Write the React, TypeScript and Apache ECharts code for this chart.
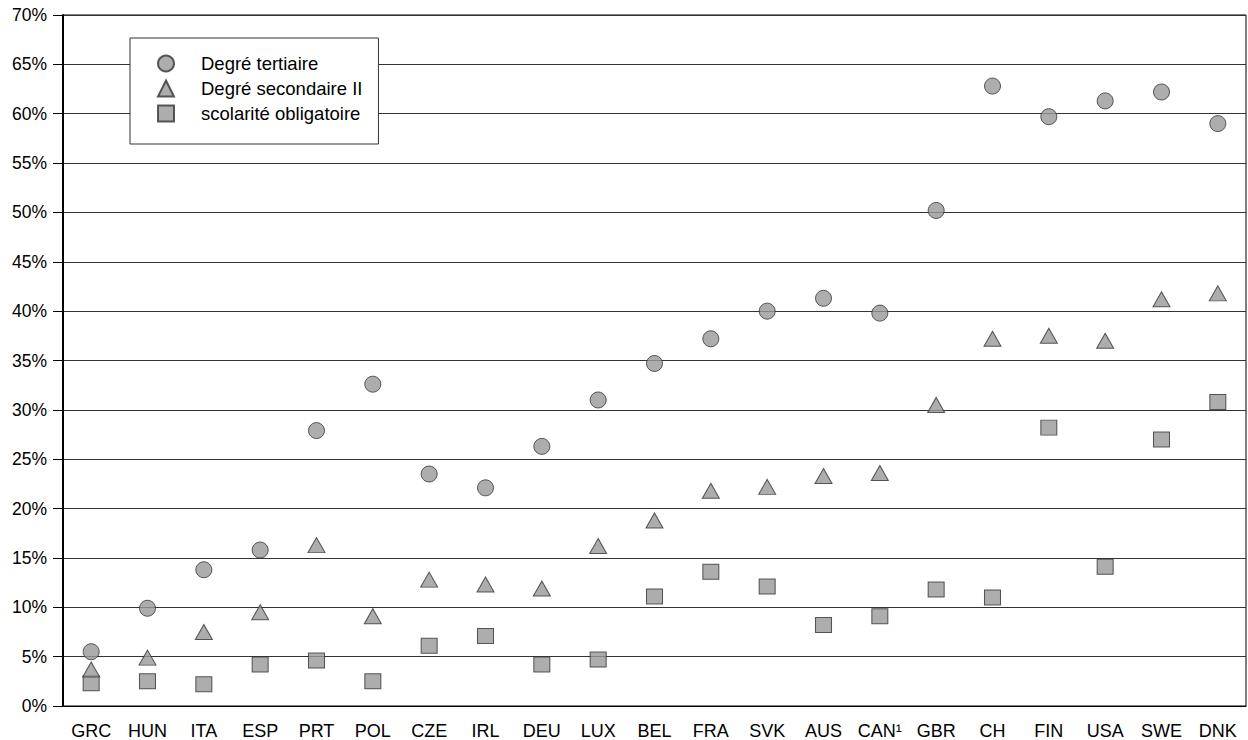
import React, { useEffect, useRef } from "react";
import * as echarts from "echarts";

const categories = ["GRC", "HUN", "ITA", "ESP", "PRT", "POL", "CZE", "IRL", "DEU", "LUX", "BEL", "FRA", "SVK", "AUS", "CAN¹", "GBR", "CH", "FIN", "USA", "SWE", "DNK"];
const tertiaire = [5.5, 9.9, 13.8, 15.8, 27.9, 32.6, 23.5, 22.1, 26.3, 31.0, 34.7, 37.2, 40.0, 41.3, 39.8, 50.2, 62.8, 59.7, 61.3, 62.2, 59.0];
const secondaireII = [3.7, 4.9, 7.5, 9.5, 16.3, 9.1, 12.8, 12.3, 11.9, 16.2, 18.8, 21.8, 22.2, 23.3, 23.6, 30.5, 37.2, 37.5, 37.0, 41.2, 41.8];
const obligatoire = [2.3, 2.5, 2.2, 4.2, 4.6, 2.5, 6.1, 7.1, 4.2, 4.7, 11.1, 13.6, 12.1, 8.2, 9.1, 11.8, 11.0, 28.2, 14.1, 27.0, 30.8];
const seriesNames = ["Degré tertiaire", "Degré secondaire II", "scolarité obligatoire"];

const FONT = "'Liberation Sans', Arial, Helvetica, sans-serif";

export default function App() {
  const ref = useRef<HTMLDivElement>(null);
  useEffect(() => {
    if (!ref.current) return;
    const chart = echarts.init(ref.current, undefined, { renderer: "svg" });
    const markerStyle = { color: "#999999", borderColor: "#333333", borderWidth: 1 };
    chart.setOption({
      animation: false,
      backgroundColor: "#ffffff",
      textStyle: { fontFamily: FONT, color: "#000" },
      grid: {
        left: 63,
        right: 2,
        top: 15,
        bottom: 34,
        show: true,
        borderColor: "#000",
        borderWidth: 1,
        backgroundColor: "transparent",
      },
      legend: {
        show: true,
        orient: "vertical",
        left: 130,
        top: 38,
        padding: [16, 16, 21, 27],
        itemWidth: 16,
        itemHeight: 16,
        itemGap: 6,
        backgroundColor: "#ffffff",
        borderColor: "#333333",
        borderWidth: 1,
        borderRadius: 0,
        selectedMode: false,
        textStyle: { fontFamily: FONT, fontSize: 18.5, lineHeight: 19, color: "#000", padding: [0, 0, 0, 22] },
        data: seriesNames,
      },
      xAxis: {
        type: "category",
        data: categories,
        boundaryGap: true,
        axisLine: { show: true, lineStyle: { color: "#000", width: 1 } },
        axisTick: { show: false },
        axisLabel: { fontFamily: FONT, fontSize: 18, color: "#000", margin: 16, interval: 0 },
        splitLine: { show: false },
      },
      yAxis: {
        type: "value",
        min: 0,
        max: 70,
        interval: 5,
        axisLine: { show: true, lineStyle: { color: "#000", width: 2 } },
        axisTick: { show: true, length: 10, lineStyle: { color: "#000", width: 1 } },
        axisLabel: { fontFamily: FONT, fontSize: 17.5, color: "#000", margin: 16, formatter: "{value}%" },
        splitLine: { show: true, lineStyle: { color: "#333", width: 1 } },
      },
      series: [
        {
          name: seriesNames[0],
          type: "scatter",
          symbol: "circle",
          symbolSize: 16,
          itemStyle: markerStyle,
          data: tertiaire,
          z: 4,
        },
        {
          name: seriesNames[1],
          type: "scatter",
          symbol: "triangle",
          symbolSize: [17, 15],
          itemStyle: markerStyle,
          data: secondaireII,
          z: 3,
        },
        {
          name: seriesNames[2],
          type: "scatter",
          symbol: "rect",
          symbolSize: [16, 15],
          itemStyle: markerStyle,
          data: obligatoire,
          z: 2,
        },
      ],
    });
    return () => chart.dispose();
  }, []);
  return (
    <div
      ref={ref}
      style={{ position: "fixed", left: 0, top: 0, width: 1248, height: 740, background: "#fff" }}
    />
  );
}
